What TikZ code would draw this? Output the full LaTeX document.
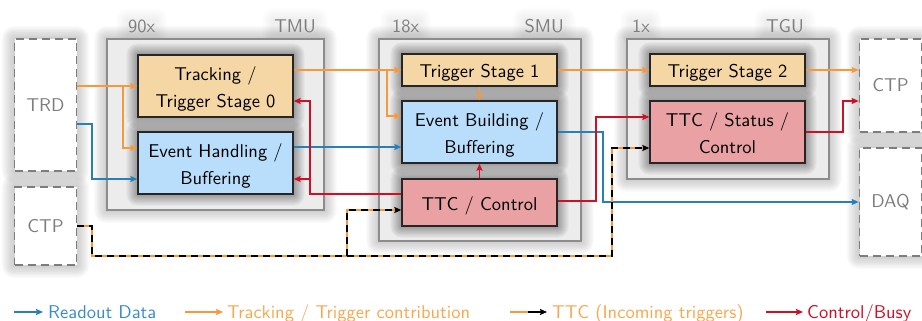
\documentclass[tikz,border=0pt]{standalone}
\usepackage{fontspec}
\setsansfont{lmsans10-regular.otf}
\usetikzlibrary{arrows.meta,calc}
\definecolor{orf}{RGB}{245,214,165}
\definecolor{blf}{RGB}{185,222,252}
\definecolor{rdf}{RGB}{233,161,163}
\definecolor{grf}{RGB}{236,236,236}
\definecolor{grd}{RGB}{140,140,140}
\definecolor{orl}{RGB}{247,152,58}
\definecolor{bll}{RGB}{40,128,186}
\definecolor{rdl}{RGB}{208,14,38}
\definecolor{gtx}{RGB}{125,125,125}
\definecolor{blt}{RGB}{55,140,200}
\definecolor{ort}{RGB}{249,168,80}
\pgfdeclarelayer{ga}\pgfdeclarelayer{cont}\pgfdeclarelayer{gb}
\pgfsetlayers{ga,cont,gb,main}
\newcommand\glowit[4]{\foreach \k in {1,...,#2}{\pgfmathsetmacro\dd{\k*#4}%
  \fill[black,opacity=#3,rounded corners=\dd pt] ([shift={(-\dd pt,\dd pt)}]#1.north west) rectangle ([shift={(\dd pt,-\dd pt)}]#1.south east);}}
\begin{document}
\begin{tikzpicture}[x=1pt,y=-1pt,
  font=\sffamily\fontsize{18.5}{27}\selectfont,
  box/.style={draw=black!85, line width=1.3pt, minimum width=155pt, align=center, inner sep=0pt},
  oneline/.style={text height=17pt, text depth=1.7pt},
  twoline/.style={text height=44pt, text depth=1.7pt},
  contbox/.style={draw=grd, fill=grf, line width=1.8pt, inner sep=0pt},
  ext/.style={draw=gtx, dash pattern=on 8pt off 5pt, line width=1.6pt, fill=white, text=gtx, minimum width=62pt, inner sep=0pt},
  lbl/.style={text=gtx, inner sep=0pt},
  tip/.style={-{Stealth[length=7pt,width=6pt,inset=1pt]}},
  orA/.style={draw=orl, line width=1.4pt, tip},
  blA/.style={draw=bll, line width=1.4pt, tip},
  rdA/.style={draw=rdl, line width=1.4pt, tip},
  ttcA/.style={draw=black, line width=2pt, dash pattern=on 7pt off 5pt, tip, preaction={draw=orl, solid, line width=2pt, -}},
  legtext/.style={anchor=base west, inner sep=0pt}]
\useasboundingbox (0,0) rectangle (922,321);

% containers
\begin{pgfonlayer}{cont}
\node[contbox, minimum width=217pt, minimum height=171pt] (TMU) at (215.5,124.5) {};
\node[contbox, minimum width=202pt, minimum height=202pt] (SMU) at (480,140) {};
\node[contbox, minimum width=202pt, minimum height=140pt] (TGU) at (728,109) {};
\end{pgfonlayer}

\node[lbl, anchor=base west] (n90) at (128,33) {90x};
\node[lbl, anchor=base east] (lTMU) at (316,33) {TMU};
\node[lbl, anchor=base west] (n18) at (392,33) {18x};
\node[lbl, anchor=base east] (lSMU) at (564,33) {SMU};
\node[lbl, anchor=base west] (n1) at (632,33) {1x};
\node[lbl, anchor=base east] (lTGU) at (804,33) {TGU};

% external boxes
\node[ext, minimum height=132pt] (TRD) at (45.5,105) {TRD};
\node[ext, minimum height=78pt] (CTPL) at (45.5,226) {CTP};
\node[ext, minimum height=93pt] (CTPR) at (890.5,85.5) {CTP};
\node[ext, minimum height=108pt] (DAQ) at (890.5,202) {DAQ};

% inner boxes
\node[box, twoline, fill=orf, minimum height=62pt] (Track0) at (215.5,86) {Tracking /\\Trigger Stage 0};
\node[box, twoline, fill=blf, minimum height=62pt] (EvH) at (215.5,163) {Event Handling /\\Buffering};
\node[box, oneline, fill=orf, minimum height=32pt] (TS1) at (479.5,70) {Trigger Stage 1};
\node[box, twoline, fill=blf, minimum height=62pt] (EvB) at (479.5,132) {Event Building /\\Buffering};
\node[box, oneline, fill=rdf, minimum height=47pt] (TTCc) at (479.5,202.5) {TTC / Control};
\node[box, oneline, fill=orf, minimum height=32pt] (TS2) at (727.5,70) {Trigger Stage 2};
\node[box, twoline, fill=rdf, minimum height=62pt] (TTCs) at (727.5,132) {TTC / Status /\\Control};

% glows
\begin{pgfonlayer}{ga}
\glowit{TMU}{10}{0.018}{1.2}
\glowit{SMU}{10}{0.018}{1.2}
\glowit{TGU}{10}{0.018}{1.2}
\glowit{TRD}{10}{0.02}{1.2}
\glowit{CTPL}{10}{0.02}{1.2}
\glowit{CTPR}{10}{0.02}{1.2}
\glowit{DAQ}{10}{0.02}{1.2}
\glowit{n90}{8}{0.006}{1.5}
\glowit{lTMU}{8}{0.006}{1.5}
\glowit{n18}{8}{0.006}{1.5}
\glowit{lSMU}{8}{0.006}{1.5}
\glowit{n1}{8}{0.006}{1.5}
\glowit{lTGU}{8}{0.006}{1.5}
\end{pgfonlayer}
\begin{pgfonlayer}{gb}
\glowit{Track0}{10}{0.035}{1.1}
\glowit{EvH}{10}{0.035}{1.1}
\glowit{TS1}{10}{0.035}{1.1}
\glowit{EvB}{10}{0.035}{1.1}
\glowit{TTCc}{10}{0.035}{1.1}
\glowit{TS2}{10}{0.035}{1.1}
\glowit{TTCs}{10}{0.035}{1.1}
\end{pgfonlayer}

% orange
\coordinate (J1) at (123,86);
\coordinate (J2) at (387,70);
\draw[orA] (TRD.east |- Track0.west) -- (Track0.west);
\draw[orA] (J1) |- ([yshift=15pt]EvH.west);
\draw[orA] ([yshift=16pt]Track0.east) -- (TS1.west);
\draw[orA] (J2) |- ([yshift=16pt]EvB.west);
\draw[orA] (TS1.south) -- (EvB.north);
\draw[orA] (TS1.east) -- (TS2.west);
\draw[orA] (TS2.east) -- (CTPR.west |- TS2.east);

% blue
\draw[blA] ([yshift=-19pt]TRD.east) -- (92,124) |- ([yshift=-16pt]EvH.west);
\draw[blA] ([yshift=16pt]EvH.east) -- ([yshift=-15pt]EvB.west);
\draw[blA] (EvB.east) -- (603,132) |- (DAQ.west);

% red
\coordinate (J3) at (310,179);
\draw[rdA] ([yshift=8.5pt]TTCc.west) -| (310,101) -- ([yshift=-15pt]Track0.east);
\draw[rdA] (J3) -- ([yshift=-16pt]EvH.east);
\draw[rdA] (TTCc.north) -- (EvB.south);
\draw[rdA] ([yshift=1.5pt]TTCc.east) -| (596,117) -- ([yshift=15pt]TTCs.west);
\draw[rdA] (TTCs.east) -| (843,101) -- ([yshift=-15.5pt]CTPR.west);

% TTC
\coordinate (J4) at (347,256);
\draw[ttcA] (CTPL.east) -| (92,256) -| (612,148) -- ([yshift=-16pt]TTCs.west);
\draw[ttcA] (J4) |- ([yshift=-7.5pt]TTCc.west);

% legend
\coordinate (a1) at (14,312); \coordinate (b1) at (43,312);
\coordinate (a2) at (185,312); \coordinate (b2) at (223,312);
\coordinate (a3) at (510,312); \coordinate (m3) at (528,312); \coordinate (b3) at (547,312);
\coordinate (a4) at (766,312); \coordinate (b4) at (803,312);
\draw[blA] (a1) -- (b1);
\node[legtext, text=blt] (t1) at (48,318) {Readout Data};
\draw[orA] (a2) -- (b2);
\node[legtext, text=ort] (t2) at (227,318) {Tracking / Trigger contribution};
\draw[draw=orl, line width=2pt] (a3) -- (m3);
\draw[draw=black, line width=2pt, tip] (m3) -- (b3);
\node[legtext, text=ort] (t3) at (552,318) {TTC (Incoming triggers)};
\draw[rdA] (a4) -- (b4);
\node[legtext, text=rdl] (t4) at (807,318) {Control/Busy};
\end{tikzpicture}
\end{document}
